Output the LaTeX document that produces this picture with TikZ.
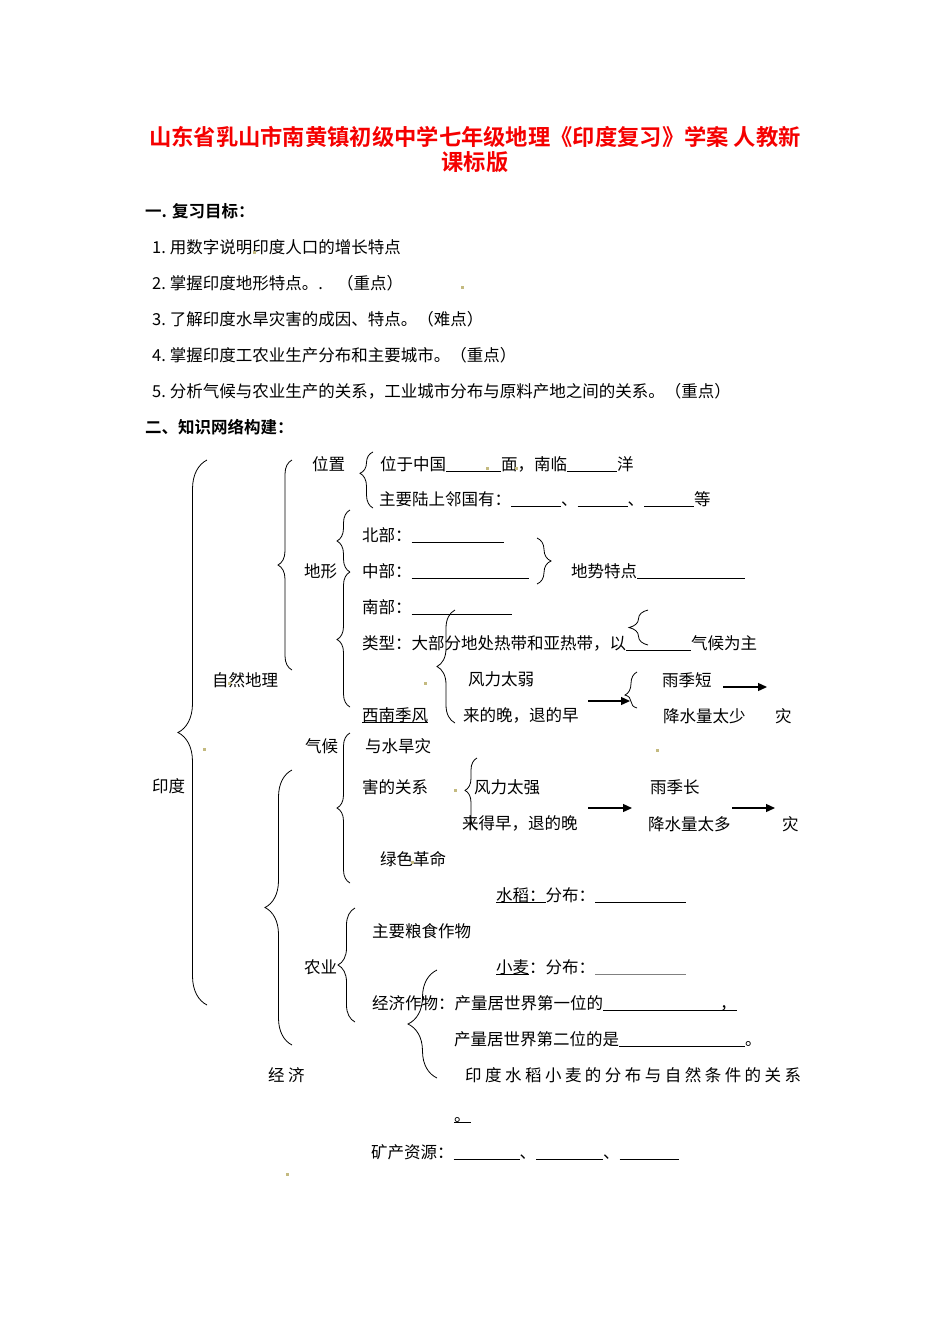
\documentclass[tikz,border=0pt]{standalone}
\usepackage{fontspec}
\setmainfont{Noto Sans CJK SC}[BoldFont={Noto Sans CJK SC Bold}]
\newfontfamily\spreadfont{Noto Sans CJK SC}[LetterSpace=21]
\usetikzlibrary{arrows.meta,decorations.pathreplacing}
\definecolor{titlered}{RGB}{245,0,0}
\definecolor{speckolive}{RGB}{196,186,128}
\newcommand\blank[1]{\rule[-1.5pt]{#1pt}{.6pt}}
\newcommand\ulword[1]{\leavevmode\setbox0\hbox{#1}\rlap{\rule[-1.5pt]{\wd0}{.6pt}}\box0}
\newcommand\goalno[1]{#1.\hspace{4pt}}
\tikzset{
  map text/.style={anchor=west,inner sep=0pt,text height=14.5pt,text depth=2pt},
  map head/.style={map text,font=\fontsize{16.5}{20}\selectfont\bfseries},
  map title/.style={inner sep=0pt,text=titlered,font=\fontsize{22.3}{26}\selectfont\bfseries},
  map brace/.style={decorate,decoration={brace,amplitude=#1},line width=0.8pt},
  map arrow/.style={-{Triangle[length=9pt,width=8pt]},line width=1.3pt},
  map speck/.style={fill=speckolive,minimum size=3pt,inner sep=0pt}
}
\begin{document}
\begin{tikzpicture}[x=1pt,y=-1pt,font=\fontsize{16.5}{20}\selectfont]
  \fill[white] (0,0) rectangle (950,1344);
  \useasboundingbox (0,0) rectangle (950,1344);

  % title
  \node[map title] (title) at (475,137) {山东省乳山市南黄镇初级中学七年级地理《印度复习》学案 人教新};
  \node[map title] (title2) at (475,162) {课标版};

  % part one: review goals
  \node[map head] (goalhead) at (145,211) {一. 复习目标：};
  \node[map text] (goal1) at (152,247) {\goalno1用数字说明印度人口的增长特点};
  \node[map text] (goal2) at (152,283) {\goalno2掌握印度地形特点。.\hspace{14pt}（重点）};
  \node[map text] (goal3) at (152,319) {\goalno3了解印度水旱灾害的成因、特点。（难点）};
  \node[map text] (goal4) at (152,355) {\goalno4掌握印度工农业生产分布和主要城市。（重点）};
  \node[map text] (goal5) at (152,391) {\goalno5分析气候与农业生产的关系，工业城市分布与原料产地之间的关系。（重点）};
  \node[map head] (nethead) at (145,427) {二、知识网络构建：};

  % root and natural geography
  \node[map text] (india) at (152,786) {印度};
  \node[map text] (nature) at (212,680) {自然地理};
  \node[map text] (loc) at (312,464) {位置};
  \node[map text] (locA) at (380,464) {位于中国\blank{55}面，南临\blank{50}洋};
  \node[map text] (locB) at (379,499) {主要陆上邻国有：\blank{50}、\blank{50}、\blank{50}等};
  \node[map text] (terrain) at (304,571) {地形};
  \node[map text] (north) at (362,535) {北部：\blank{92}};
  \node[map text] (middle) at (362,571) {中部：\blank{117}};
  \node[map text] (trend) at (571,571) {地势特点\blank{108}};
  \node[map text] (south) at (362,607) {南部：\blank{100}};
  \node[map text] (ctype) at (362,643) {类型：大部分地处热带和亚热带，以\blank{65}气候为主};

  % monsoon and floods / droughts
  \node[map text] (weak) at (468,679) {风力太弱};
  \node[map text] (swmon) at (362,715) {\ulword{西南季风}};
  \node[map text] (late) at (463,715) {来的晚，退的早};
  \node[map text] (rshort) at (662,680) {雨季短};
  \node[map text] (rless) at (663,716) {降水量太少};
  \node[map text] (dis1) at (775,716) {灾};
  \node[map text] (climate) at (305,746) {气候};
  \node[map text] (floodA) at (365,746) {与水旱灾};
  \node[map text] (floodB) at (362,787) {害的关系};
  \node[map text] (strong) at (474,787) {风力太强};
  \node[map text] (early) at (462,823) {来得早，退的晚};
  \node[map text] (rlong) at (650,787) {雨季长};
  \node[map text] (rmore) at (648,824) {降水量太多};
  \node[map text] (dis2) at (782,824) {灾};
  \node[map text] (green) at (380,859) {绿色革命};

  % economy
  \node[map text] (econ) at (268,1075) {\spreadfont 经济};
  \node[map text] (rice) at (496,895) {\ulword{水稻：}分布：\blank{91}};
  \node[map text] (staple) at (372,931) {主要粮食作物};
  \node[map text] (agri) at (304,967) {农业};
  \node[map text] (wheat) at (496,967) {\ulword{小麦}：分布：{\color{gray}\blank{91}}};
  \node[map text] (cashA) at (372,1003) {经济作物：产量居世界第一位的\ulword{\hspace{117pt}，}};
  \node[map text] (cashB) at (454,1039) {产量居世界第二位的是\blank{126}。};
  \node[map text] (relation) at (465,1075) {\spreadfont 印度水稻小麦的分布与自然条件的关系};
  \node[map text] (stop) at (454,1115) {\ulword{。}};
  \node[map text] (mineral) at (371,1152) {矿产资源：\blank{66}、\blank{67}、\blank{59}};

  % brace ends
  \coordinate (india top) at (207,460);   \coordinate (india bot) at (207,1005);
  \coordinate (nature top) at (292,460);  \coordinate (nature bot) at (292,670);
  \coordinate (loc top) at (373,452);     \coordinate (loc bot) at (373,508);
  \coordinate (terA top) at (350,510);    \coordinate (terA bot) at (350,572);
  \coordinate (terB top) at (350,572);    \coordinate (terB bot) at (350,707);
  \coordinate (trend top) at (537,538);   \coordinate (trend bot) at (537,584);
  \coordinate (zone top) at (455,610);    \coordinate (zone bot) at (455,723);
  \coordinate (kind top) at (648,610);    \coordinate (kind bot) at (648,645);
  \coordinate (dry top) at (637,672);     \coordinate (dry bot) at (637,708);
  \coordinate (clim top) at (350,733);    \coordinate (clim bot) at (350,883);
  \coordinate (wet top) at (477,758);     \coordinate (wet bot) at (477,830);
  \coordinate (econ top) at (292,770);    \coordinate (econ bot) at (292,1045);
  \coordinate (agri top) at (355,908);    \coordinate (agri bot) at (355,1022);
  \coordinate (cash top) at (437,970);    \coordinate (cash bot) at (437,1078);

  \draw[map brace=29pt] (india bot) -- (india top);
  \draw[map brace=14pt] (nature bot) -- (nature top);
  \draw[map brace=13pt,decoration={aspect=0.62}] (loc bot) -- (loc top);
  \draw[map brace=13pt] (terA bot) -- (terA top);
  \draw[map brace=13pt] (terB bot) -- (terB top);
  \draw[map brace=14pt] (trend top) -- (trend bot);
  \draw[map brace=18pt] (zone bot) -- (zone top);
  \draw[map brace=19pt] (kind bot) -- (kind top);
  \draw[map brace=12pt,decoration={aspect=0.36}] (dry bot) -- (dry top);
  \draw[map brace=13pt] (clim bot) -- (clim top);
  \draw[map brace=12pt,decoration={aspect=0.55}] (wet bot) -- (wet top);
  \draw[map brace=27pt] (econ bot) -- (econ top);
  \draw[map brace=17pt] (agri bot) -- (agri top);
  \draw[map brace=29pt] (cash bot) -- (cash top);

  % arrows towards the disasters
  \coordinate (dryA from) at (588,701);  \coordinate (dryA to) at (630,701);
  \coordinate (dryB from) at (723,687);  \coordinate (dryB to) at (767,687);
  \coordinate (wetA from) at (588,808);  \coordinate (wetA to) at (632,808);
  \coordinate (wetB from) at (732,808);  \coordinate (wetB to) at (775,808);
  \draw[map arrow] (dryA from) -- (dryA to);
  \draw[map arrow] (dryB from) -- (dryB to);
  \draw[map arrow] (wetA from) -- (wetA to);
  \draw[map arrow] (wetB from) -- (wetB to);

  % stray specks of the scan
  \node[map speck] (s1) at (254,252) {};
  \node[map speck] (s2) at (462,287) {};
  \node[map speck] (s3) at (487,468) {};
  \node[map speck] (s4) at (516,468) {};
  \node[map speck] (s5) at (229,683) {};
  \node[map speck] (s6) at (425,683) {};
  \node[map speck] (s7) at (204,749) {};
  \node[map speck] (s8) at (657,750) {};
  \node[map speck] (s9) at (455,790) {};
  \node[map speck] (s10) at (412,862) {};
  \node[map speck] (s11) at (287,1174) {};
\end{tikzpicture}
\end{document}
